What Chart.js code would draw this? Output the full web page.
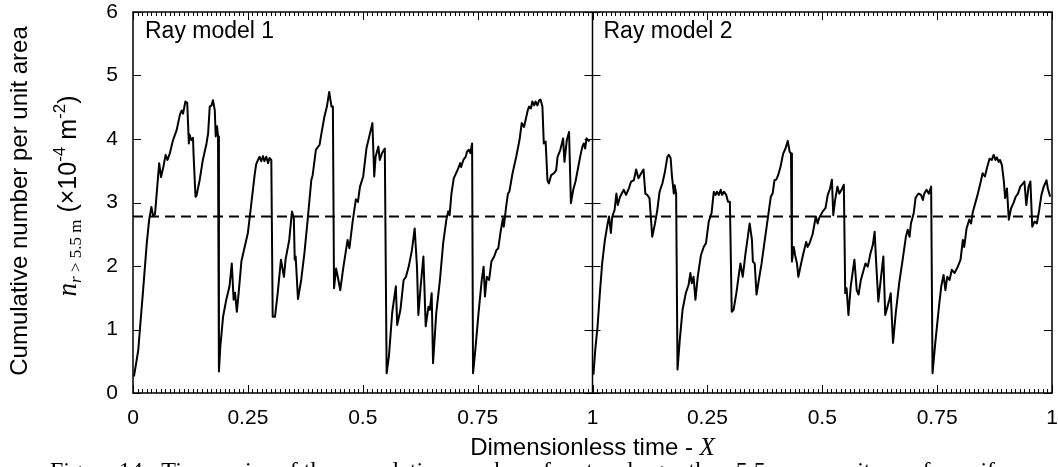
<!DOCTYPE html>
<html lang="en">
<head>
    <meta charset="UTF-8">
    <title>Cumulative number per unit area - ray models</title>
    <script src="https://cdn.jsdelivr.net/npm/chart.js"></script>
    <style>
        body {
            margin: 0;
            background: #fff;
        }
        #wrap {
            width: 1058px;
            height: 467px;
            overflow: hidden;
        }
    </style>
</head>
<body>
    <div id="wrap">
        <canvas id="rayChart" width="1058" height="467"></canvas>
    </div>

    <script>
        // values (x = dimensionless time, y = n (x10^-4 m^-2))
        const panelLabels = ['Ray model 1', 'Ray model 2'];
        const xTickValues = [0, 0.25, 0.5, 0.75, 1];
        const yTickValues = [0, 1, 2, 3, 4, 5, 6];
        const meanLevel = 2.78;

        const rayX1 = [0.002, 0.008, 0.0115, 0.015, 0.022, 0.030, 0.035, 0.040, 0.044, 0.048, 0.051, 0.057, 0.061, 0.066, 0.071, 0.075, 0.080, 0.087, 0.095, 0.102,
            0.106, 0.109, 0.114, 0.118, 0.1215, 0.123, 0.127, 0.1305, 0.132, 0.136, 0.138, 0.145, 0.152, 0.160, 0.1635, 0.167, 0.171, 0.174, 0.178, 0.180,
            0.183, 0.185, 0.187, 0.190, 0.196, 0.203, 0.210, 0.215, 0.219, 0.222, 0.226, 0.230, 0.236, 0.243, 0.250, 0.257, 0.265, 0.268, 0.272, 0.2755,
            0.279, 0.283, 0.286, 0.290, 0.294, 0.297, 0.301, 0.304, 0.309, 0.315, 0.322, 0.3285, 0.332, 0.340, 0.346, 0.350, 0.352, 0.354, 0.359, 0.366,
            0.373, 0.380, 0.388, 0.391, 0.398, 0.406, 0.409, 0.4165, 0.422, 0.427, 0.432, 0.435, 0.4375, 0.442, 0.447, 0.451, 0.458, 0.467, 0.471, 0.478,
            0.485, 0.4895, 0.494, 0.501, 0.508, 0.521, 0.525, 0.528, 0.534, 0.537, 0.542, 0.548, 0.552, 0.557, 0.564, 0.572, 0.575, 0.582, 0.589, 0.594,
            0.600, 0.607, 0.613, 0.618, 0.621, 0.626, 0.632, 0.637, 0.643, 0.646, 0.650, 0.653, 0.660, 0.668, 0.675, 0.682, 0.686, 0.689, 0.693, 0.698,
            0.703, 0.708, 0.712, 0.714, 0.719, 0.724, 0.727, 0.731, 0.734, 0.738, 0.740, 0.745, 0.752, 0.759, 0.763, 0.766, 0.770, 0.775, 0.780, 0.786,
            0.791, 0.795, 0.800, 0.805, 0.807, 0.812, 0.816, 0.819, 0.826, 0.834, 0.841, 0.846, 0.851, 0.859, 0.862, 0.866, 0.869, 0.873, 0.876, 0.880,
            0.884, 0.887, 0.891, 0.894, 0.898, 0.902, 0.905, 0.910, 0.916, 0.921, 0.924, 0.930, 0.936, 0.939, 0.944, 0.949, 0.953, 0.958, 0.963, 0.969,
            0.974, 0.978, 0.981, 0.984, 0.987, 0.9935];
        const rayY1 = [0.26, 0.52, 0.68, 1.00, 1.62, 2.36, 2.72, 2.93, 2.78, 2.82, 3.09, 3.62, 3.40, 3.56, 3.75, 3.67, 3.77, 3.98, 4.14, 4.38,
            4.45, 4.40, 4.59, 4.57, 3.93, 4.07, 3.98, 4.02, 3.72, 3.09, 3.10, 3.35, 3.67, 3.93, 4.09, 4.51, 4.53, 4.61, 4.45, 4.04,
            4.20, 4.04, 0.34, 0.73, 1.20, 1.47, 1.68, 2.04, 1.47, 1.58, 1.28, 1.58, 2.08, 2.30, 2.52, 2.95, 3.45, 3.60, 3.67, 3.72,
            3.65, 3.73, 3.65, 3.72, 3.62, 3.70, 3.67, 1.20, 1.20, 1.58, 2.10, 1.83, 2.10, 2.41, 2.86, 2.75, 2.10, 2.15, 1.48, 1.78,
            2.20, 2.72, 3.35, 3.43, 3.83, 3.91, 4.04, 4.35, 4.51, 4.74, 4.51, 4.51, 1.65, 1.96, 1.78, 1.62, 1.99, 2.41, 2.28, 2.70,
            3.05, 3.01, 3.25, 3.41, 3.85, 4.25, 3.41, 3.72, 3.88, 3.67, 3.78, 3.85, 0.31, 0.58, 1.26, 1.68, 1.07, 1.31, 1.78, 1.83,
            1.99, 2.25, 2.59, 1.99, 1.23, 1.68, 2.15, 1.05, 1.36, 1.31, 1.57, 0.47, 1.26, 1.78, 2.36, 2.73, 2.86, 2.80, 3.14, 3.38,
            3.46, 3.54, 3.62, 3.56, 3.67, 3.72, 3.80, 3.83, 3.78, 3.93, 0.31, 0.68, 1.26, 1.78, 1.99, 1.52, 1.83, 1.78, 2.07, 2.15,
            2.25, 2.28, 2.54, 2.75, 2.62, 2.93, 3.14, 3.17, 3.46, 3.72, 3.98, 4.25, 4.19, 4.45, 4.51, 4.48, 4.59, 4.53, 4.59, 4.53,
            4.61, 4.62, 4.51, 3.93, 3.96, 3.35, 3.30, 3.43, 3.46, 3.51, 3.72, 3.83, 4.01, 3.64, 3.98, 4.11, 2.99, 3.20, 3.33, 3.56,
            3.75, 3.88, 3.93, 3.85, 4.01, 3.96];

        const rayX2 = [0.002, 0.006, 0.011, 0.016, 0.021, 0.027, 0.033, 0.036, 0.040, 0.043, 0.048, 0.052, 0.055, 0.060, 0.068, 0.073, 0.079, 0.084, 0.090, 0.095,
            0.100, 0.106, 0.111, 0.115, 0.119, 0.124, 0.130, 0.136, 0.141, 0.146, 0.152, 0.157, 0.163, 0.166, 0.170, 0.173, 0.177, 0.179, 0.182, 0.185,
            0.190, 0.196, 0.203, 0.209, 0.213, 0.216, 0.220, 0.224, 0.229, 0.236, 0.242, 0.247, 0.253, 0.259, 0.264, 0.268, 0.271, 0.275, 0.279, 0.282,
            0.286, 0.291, 0.295, 0.299, 0.303, 0.307, 0.313, 0.319, 0.322, 0.327, 0.333, 0.338, 0.342, 0.347, 0.349, 0.353, 0.357, 0.362, 0.368, 0.374,
            0.380, 0.388, 0.392, 0.396, 0.400, 0.404, 0.409, 0.415, 0.420, 0.425, 0.429, 0.432, 0.434, 0.438, 0.441, 0.445, 0.448, 0.454, 0.459, 0.465,
            0.468, 0.472, 0.479, 0.486, 0.490, 0.493, 0.501, 0.507, 0.512, 0.517, 0.521, 0.524, 0.528, 0.533, 0.537, 0.542, 0.547, 0.550, 0.553, 0.557,
            0.562, 0.570, 0.575, 0.579, 0.584, 0.589, 0.594, 0.599, 0.605, 0.610, 0.614, 0.617, 0.622, 0.628, 0.633, 0.637, 0.642, 0.646, 0.649, 0.654,
            0.660, 0.668, 0.675, 0.682, 0.686, 0.690, 0.693, 0.699, 0.703, 0.707, 0.710, 0.715, 0.719, 0.722, 0.727, 0.732, 0.737, 0.740, 0.746, 0.754,
            0.759, 0.764, 0.768, 0.772, 0.777, 0.782, 0.788, 0.795, 0.801, 0.806, 0.809, 0.814, 0.820, 0.824, 0.827, 0.833, 0.838, 0.844, 0.849, 0.854,
            0.859, 0.864, 0.869, 0.873, 0.877, 0.880, 0.884, 0.887, 0.891, 0.895, 0.898, 0.902, 0.906, 0.911, 0.916, 0.921, 0.926, 0.931, 0.937, 0.940,
            0.944, 0.949, 0.953, 0.957, 0.962, 0.967, 0.971, 0.977, 0.982, 0.988, 0.991, 0.996];
        const rayY2 = [0.29, 0.68, 1.05, 1.57, 2.04, 2.41, 2.67, 2.78, 2.52, 2.78, 2.88, 3.14, 2.96, 3.09, 3.20, 3.12, 3.22, 3.33, 3.35, 3.52,
            3.38, 3.46, 3.52, 3.14, 3.12, 3.07, 2.46, 2.67, 2.88, 3.17, 3.30, 3.46, 3.72, 3.75, 3.70, 3.41, 3.14, 3.27, 3.14, 0.37,
            0.84, 1.31, 1.57, 1.70, 1.89, 1.73, 1.83, 1.47, 1.83, 2.17, 2.30, 2.36, 2.70, 2.83, 3.17, 3.12, 3.17, 3.12, 3.20, 3.12,
            3.17, 3.12, 3.01, 3.01, 1.28, 1.31, 1.57, 1.89, 2.04, 1.83, 2.20, 2.46, 2.67, 2.41, 2.07, 2.04, 1.55, 1.78, 2.04, 2.36,
            2.67, 3.09, 3.14, 3.35, 3.36, 3.43, 3.56, 3.77, 3.85, 3.97, 3.80, 3.77, 2.07, 2.30, 2.17, 2.04, 1.83, 2.04, 2.20, 2.38,
            2.30, 2.35, 2.50, 2.78, 2.67, 2.75, 2.86, 2.91, 3.12, 3.22, 3.36, 2.80, 3.04, 3.25, 3.14, 3.20, 3.28, 1.57, 1.65, 1.23,
            1.68, 2.10, 1.62, 1.55, 1.78, 1.91, 2.04, 1.99, 2.20, 2.33, 2.54, 2.10, 1.44, 1.83, 2.15, 1.23, 1.36, 1.47, 1.57, 0.79,
            1.26, 1.76, 2.10, 2.46, 2.57, 2.46, 2.67, 2.83, 3.07, 3.12, 3.14, 3.12, 3.04, 3.14, 3.20, 3.14, 3.25, 0.31, 0.79, 1.36,
            1.68, 1.86, 1.62, 1.83, 1.78, 1.94, 1.89, 1.99, 2.10, 2.41, 2.30, 2.59, 2.73, 2.67, 2.83, 2.99, 3.12, 3.30, 3.46, 3.41,
            3.56, 3.69, 3.67, 3.75, 3.67, 3.71, 3.64, 3.67, 3.59, 3.35, 3.07, 3.22, 2.73, 2.91, 2.99, 3.09, 3.14, 3.25, 3.30, 3.33,
            2.96, 3.25, 3.33, 2.62, 2.70, 2.67, 2.83, 3.12, 3.25, 3.35, 3.22, 3.09];

        const SANS = "'Liberation Sans', Arial, Helvetica, sans-serif";
        const SERIF = "'Liberation Serif', 'Times New Roman', serif";

        Chart.defaults.font.family = SANS;
        Chart.defaults.color = '#000';

        // second panel sits on the same x scale, shifted by one
        function toPoints(xs, ys, offset) {
            return xs.map((x, i) => ({ x: x + offset, y: ys[i] }));
        }

        function tickText(v) {
            let r = v > 1 ? v - 1 : v;
            return String(Math.round(r * 100) / 100);
        }

        // draw a run of differently styled text pieces along one baseline
        function drawRun(ctx, parts, x, y, align) {
            let total = 0;
            parts.forEach(p => { ctx.font = p.font; total += ctx.measureText(p.t).width; });
            let cur = align === 'center' ? x - total / 2 : x;
            parts.forEach(p => {
                ctx.font = p.font;
                ctx.fillText(p.t, cur, y + (p.dy || 0));
                cur += ctx.measureText(p.t).width;
            });
        }

        // keep the plot box where the figure has it, labels may overhang
        function noPadding(s) {
            s.paddingLeft = 0;
            s.paddingRight = 0;
            s.paddingTop = 0;
            s.paddingBottom = 0;
        }

        const framePlugin = {
            id: 'frame',
            afterDraw(chart) {
                const { ctx, chartArea: a, scales } = chart;
                const xs = scales.x, ys = scales.y;
                const mid = xs.getPixelForValue(1);

                ctx.save();
                ctx.strokeStyle = '#000';
                ctx.lineWidth = 1.5;
                ctx.strokeRect(a.left, a.top, a.right - a.left, a.bottom - a.top);
                ctx.beginPath();
                ctx.moveTo(mid, a.top);
                ctx.lineTo(mid, a.bottom);
                ctx.stroke();

                // x ticks, top and bottom, every 0.01 with majors at 0.25
                ctx.lineWidth = 1;
                ctx.beginPath();
                for (let i = 0; i <= 200; i++) {
                    const px = Math.round(xs.getPixelForValue(i / 100)) + 0.5;
                    const len = i % 25 === 0 ? 8 : 4;
                    ctx.moveTo(px, a.bottom);
                    ctx.lineTo(px, a.bottom - len);
                    ctx.moveTo(px, a.top);
                    ctx.lineTo(px, a.top + len);
                }
                // y ticks on the outer edges and both sides of the divider
                yTickValues.forEach(v => {
                    const py = Math.round(ys.getPixelForValue(v)) + 0.5;
                    ctx.moveTo(a.left, py); ctx.lineTo(a.left + 8, py);
                    ctx.moveTo(mid - 8, py); ctx.lineTo(mid + 8, py);
                    ctx.moveTo(a.right, py); ctx.lineTo(a.right - 8, py);
                });
                ctx.stroke();

                ctx.fillStyle = '#000';
                ctx.textBaseline = 'alphabetic';
                ctx.textAlign = 'left';

                // panel labels
                ctx.font = '23px ' + SANS;
                ctx.fillText(panelLabels[0], a.left + 12, a.top + 26);
                ctx.fillText(panelLabels[1], mid + 11, a.top + 26);

                // x title
                drawRun(ctx, [
                    { t: 'Dimensionless time - ', font: '24px ' + SANS },
                    { t: 'X', font: 'italic 25px ' + SERIF }
                ], (a.left + a.right) / 2, 455, 'center');

                // y titles, rotated
                ctx.save();
                ctx.translate(27, 201);
                ctx.rotate(-Math.PI / 2);
                ctx.font = '24px ' + SANS;
                ctx.textAlign = 'center';
                ctx.fillText('Cumulative number per unit area', 0, 0);
                ctx.restore();

                ctx.save();
                ctx.translate(76, 196);
                ctx.rotate(-Math.PI / 2);
                ctx.textAlign = 'left';
                drawRun(ctx, [
                    { t: 'n', font: 'italic 27px ' + SERIF },
                    { t: 'r', font: 'italic 17px ' + SERIF, dy: 5 },
                    { t: ' > 5.5 m', font: '17px ' + SERIF, dy: 5 },
                    { t: ' (\u00d710', font: '25px ' + SANS },
                    { t: '-4', font: '17px ' + SANS, dy: -11 },
                    { t: ' m', font: '25px ' + SANS },
                    { t: '-2', font: '17px ' + SANS, dy: -11 },
                    { t: ')', font: '25px ' + SANS }
                ], 0, 0, 'center');
                ctx.restore();

                // figure caption, cut off by the bottom edge
                ctx.font = '24px ' + SERIF;
                ctx.fillText('Figure 14:  Time series of the cumulative number of craters larger than 5.5 m per unit area for uniform', 50, 478);
                ctx.restore();
            }
        };

        const lineStyle = {
            borderColor: '#000',
            borderWidth: 2,
            pointRadius: 0,
            fill: false,
            tension: 0,
            borderJoinStyle: 'round'
        };

        new Chart(document.getElementById('rayChart').getContext('2d'), {
            type: 'line',
            data: {
                datasets: [
                    Object.assign({ label: panelLabels[0], data: toPoints(rayX1, rayY1, 0) }, lineStyle),
                    Object.assign({ label: panelLabels[1], data: toPoints(rayX2, rayY2, 1) }, lineStyle),
                    Object.assign({}, lineStyle, {
                        label: 'mean',
                        data: [{ x: 0, y: meanLevel }, { x: 2, y: meanLevel }],
                        borderDash: [10, 6],
                        borderJoinStyle: 'miter'
                    })
                ]
            },
            options: {
                responsive: false,
                animation: false,
                layout: { autoPadding: false, padding: { left: 0, right: 6, top: 12, bottom: 0 } },
                plugins: {
                    legend: { display: false },
                    tooltip: { enabled: false }
                },
                scales: {
                    x: {
                        type: 'linear',
                        min: 0,
                        max: 2,
                        grid: { display: false, drawTicks: false },
                        border: { display: false },
                        ticks: {
                            stepSize: 0.25,
                            autoSkip: false,
                            maxRotation: 0,
                            padding: 13,
                            font: { size: 21 },
                            callback: v => tickText(v)
                        },
                        afterFit: s => { s.height = 74; noPadding(s); }
                    },
                    y: {
                        min: yTickValues[0],
                        max: yTickValues[yTickValues.length - 1],
                        grid: { display: false, drawTicks: false },
                        border: { display: false },
                        ticks: {
                            stepSize: 1,
                            padding: 15,
                            font: { size: 21 }
                        },
                        afterFit: s => { s.width = 133; noPadding(s); }
                    }
                }
            },
            plugins: [framePlugin]
        });
    </script>
</body>
</html>
